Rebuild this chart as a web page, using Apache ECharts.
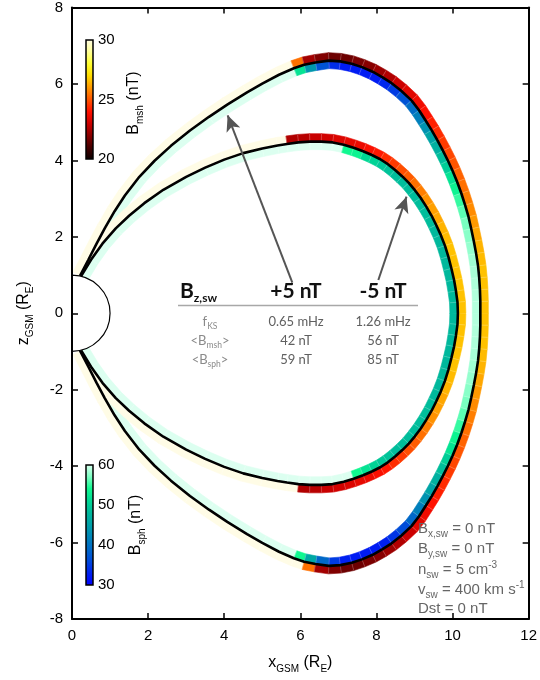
<!DOCTYPE html>
<html><head><meta charset="utf-8">
<script src="https://cdn.jsdelivr.net/npm/echarts@6.0.0/dist/echarts.min.js"></script>
<style>html,body{margin:0;padding:0;background:#fff}#c{width:540px;height:680px}</style>
</head><body><div id="c"></div>
<script>
// ---------------- data ----------------
// outer field line (Bz,sw = +5 nT), northern half, from Earth to the nose
const outerUpX = [0.21,0.43,0.65,0.86,1.12,1.39,1.77,2.17,2.6,3.1,3.6,4.08,4.6,5.0,5.44,5.83,6.1,6.4,6.75,7.05,7.35,7.62,7.9,8.15,8.4,8.65,8.92,9.12,9.30,9.45,9.6,9.75,9.88,10.0,10.12,10.23,10.33,10.42,10.49,10.56,10.62,10.67,10.70,10.72,10.73,10.73];
const outerUpZ = [0.98,1.40,1.83,2.22,2.67,3.08,3.57,3.99,4.38,4.78,5.14,5.46,5.78,6.01,6.24,6.41,6.50,6.56,6.61,6.59,6.53,6.44,6.32,6.18,6.02,5.82,5.57,5.31,5.03,4.79,4.53,4.25,3.99,3.73,3.44,3.14,2.83,2.52,2.21,1.88,1.56,1.24,0.93,0.62,0.31,0];
// per segment values (nT)
const outerUpMsh = [30,30,30,30,30,30,30,30,30,30,30,30,30,30,30,25.4,22.4,21.9,21.6,21.6,21.8,22.0,22.3,22.6,23.0,23.4,23.7,24.0,24.2,24.4,24.6,24.8,25.0,25.2,25.4,25.6,25.8,26.0,26.2,26.4,26.5,26.6,26.6,26.6,26.6];
const outerUpSph = [60,60,60,60,60,60,60,60,60,60,60,60,60,60,60,52,44,37,34,32.5,32.5,32.5,32.5,33.5,35,37,39.5,41.5,43.5,45.5,47,48.5,50,52,53.5,55,56,56.8,57.3,57.7,58,58.3,58.5,58.6,58.7];
// outer field line, southern half, from Earth to the nose
const outerLowX = [0.21,0.43,0.65,0.86,1.12,1.39,1.77,2.17,2.6,3.1,3.6,4.08,4.6,5.0,5.44,5.83,6.1,6.4,6.75,7.05,7.35,7.62,7.9,8.15,8.4,8.65,8.92,9.12,9.30,9.45,9.6,9.75,9.88,10.0,10.12,10.23,10.33,10.42,10.49,10.56,10.62,10.67,10.70,10.72,10.73,10.73];
const outerLowZ = [-0.98,-1.40,-1.83,-2.22,-2.67,-3.08,-3.57,-3.99,-4.38,-4.78,-5.14,-5.46,-5.78,-6.01,-6.24,-6.41,-6.50,-6.56,-6.61,-6.59,-6.53,-6.44,-6.32,-6.18,-6.02,-5.82,-5.57,-5.31,-5.03,-4.79,-4.53,-4.25,-3.99,-3.73,-3.44,-3.14,-2.83,-2.52,-2.21,-1.88,-1.56,-1.24,-0.93,-0.62,-0.31,0];
const outerLowMsh = [30,30,30,30,30,30,30,30,30,30,30,30,30,30,30,30,25.4,22.4,21.9,21.6,21.6,21.8,22.0,22.3,22.6,23.0,23.4,23.7,24.0,24.2,24.4,24.6,24.8,25.0,25.2,25.4,25.6,25.8,26.0,26.2,26.4,26.5,26.6,26.6,26.6];
const outerLowSph = [60,60,60,60,60,60,60,60,60,60,60,60,60,60,60,54,46,39,35,33,32.5,32.5,32.5,33,34.5,36.5,39,41.5,43.5,45.5,47,48.5,50,52,53.5,55,56,56.8,57.3,57.7,58,58.3,58.5,58.6,58.7];
// inner field line (Bz,sw = -5 nT), northern half
const innerUpX = [0.24,0.5,0.8,1.15,1.5,1.9,2.4,3.0,3.5,4.0,4.5,5.0,5.4,5.65,5.95,6.25,6.55,6.85,7.14,7.40,7.65,7.88,8.10,8.30,8.49,8.68,8.85,9.01,9.16,9.31,9.45,9.57,9.69,9.80,9.89,9.97,10.04,10.09,10.13,10.14];
const innerUpZ = [0.97,1.40,1.82,2.22,2.55,2.88,3.23,3.57,3.81,4.02,4.19,4.31,4.39,4.43,4.47,4.49,4.49,4.47,4.41,4.33,4.24,4.14,4.03,3.90,3.75,3.58,3.41,3.22,3.02,2.79,2.55,2.31,2.05,1.77,1.48,1.17,0.87,0.58,0.29,0];
const innerUpMsh = [30,30,30,30,30,30,30,30,30,30,30,30,30,22.6,22.7,22.95,23.1,23.3,23.5,23.6,23.9,24.1,24.4,24.6,24.9,25.1,25.4,25.6,25.9,26.1,26.2,26.4,26.5,26.6,26.6,26.6,26.6,26.6,26.6];
const innerUpSph = [60,60,60,60,60,60,60,60,60,60,60,60,60,60,60,60,60,60,54,53.5,51,50.5,49.5,49,48.5,48.5,48.5,48.5,48.5,48.5,48.5,48,48,48,48,48,48,48,48];
// inner field line, southern half
const innerLowX = [0.24,0.5,0.8,1.15,1.5,1.9,2.4,3.0,3.5,4.0,4.5,5.0,5.4,5.65,5.95,6.25,6.55,6.85,7.14,7.40,7.65,7.88,8.10,8.30,8.49,8.68,8.85,9.01,9.16,9.31,9.45,9.57,9.69,9.80,9.89,9.97,10.04,10.09,10.13,10.14];
const innerLowZ = [-0.97,-1.40,-1.82,-2.22,-2.55,-2.88,-3.23,-3.57,-3.81,-4.02,-4.19,-4.31,-4.39,-4.43,-4.47,-4.49,-4.49,-4.47,-4.41,-4.33,-4.24,-4.14,-4.03,-3.90,-3.75,-3.58,-3.41,-3.22,-3.02,-2.79,-2.55,-2.31,-2.05,-1.77,-1.48,-1.17,-0.87,-0.58,-0.29,0];
const innerLowMsh = [30,30,30,30,30,30,30,30,30,30,30,30,30,30,22.6,22.7,22.95,23.1,23.3,23.5,23.6,23.9,24.1,24.4,24.6,24.9,25.1,25.4,25.6,25.9,26.1,26.2,26.4,26.5,26.6,26.6,26.6,26.6,26.6];
const innerLowSph = [60,60,60,60,60,60,60,60,60,60,60,60,60,60,60,60,60,60,60,54,52,50.5,49.5,49,48.5,48.5,48.5,48.5,48.5,48.5,48.5,48,48,48,48,48,48,48,48];

const earthRadius = 1;
const arrowFrom = [[5.79, 0.80], [8.05, 0.87]];
const arrowTo = [[4.09, 5.18], [8.79, 3.05]];

const xTicksMin = 0, xTicksMax = 12, yTicksMin = -8, yTicksMax = 8;
const mshRange = [20, 30], sphRange = [30, 60];
const mshTicks = [20, 25, 30], sphTicks = [30, 40, 50, 60];

const tableHead = ['+5 nT', '-5 nT'];
const tableRows = [
  ['{l|f}{ls|KS}', '0.65 mHz', '1.26 mHz'],
  ['{l|<B}{ls|msh}{l|>}', '42 nT', '56 nT'],
  ['{l|<B}{ls|sph}{l|>}', '59 nT', '85 nT']
];
const swLines = [
  '{m|B}{s|x,sw}{m| = 0 nT}',
  '{m|B}{s|y,sw}{m| = 0 nT}',
  '{m|n}{s|sw}{m| = 5 cm}{p|-3}',
  '{m|v}{s|sw}{m| = 400 km s}{p|-1}',
  '{m|Dst = 0 nT}'
];

// ---------------- colour maps (style) ----------------
const HOT = ['#0a0000','#440000','#880000','#cc0000','#ff1100','#ff5500','#ff9900','#ffdd00','#ffff33','#ffff99','#fffce6'];
const WINTERX = ['#0000ff','#0020f0','#0048dc','#0068c8','#0084b8','#00a0a8','#00b89c','#00d894','#10f890','#80ffc4','#dcfff0'];
function hexToRgb(h){return [parseInt(h.slice(1,3),16),parseInt(h.slice(3,5),16),parseInt(h.slice(5,7),16)];}
function cmap(stops, vmin, vmax, v){
  let t = (v - vmin) / (vmax - vmin); t = Math.max(0, Math.min(1, t));
  const n = stops.length - 1, f = t * n, i = Math.min(Math.floor(f), n - 1), u = f - i;
  const a = hexToRgb(stops[i]), b = hexToRgb(stops[i + 1]);
  return 'rgb(' + a.map((c, k) => Math.round(c + (b[k] - c) * u)).join(',') + ')';
}
function gradient(stops){
  return {type:'linear', x:0, y:0, x2:0, y2:1,
    colorStops: stops.map((c, i) => ({offset: 1 - i / (stops.length - 1), color: c})).reverse()};
}

const F = '"Liberation Sans", Arial, sans-serif';
const FT = 'Lato, "Open Sans", sans-serif';
const BAND_W = 8;

function bandSeries(X, Z, V, stops, range, side){
  return {
    type:'custom', z:2, silent:true, animation:false,
    data: V.map((v, i) => [X[i], Z[i], v]),
    encode:{x:0, y:1},
    renderItem: function(params, api){
      const i = params.dataIndex, n = X.length;
      const P = j => api.coord([X[j], Z[j]]);
      const N = j => {
        const a = P(Math.max(j - 1, 0)), b = P(Math.min(j + 1, n - 1));
        const tx = b[0] - a[0], ty = b[1] - a[1], L = Math.hypot(tx, ty) || 1;
        return [side * ty / L, -side * tx / L];
      };
      const p0 = P(i), p1 = P(i + 1), n0 = N(i), n1 = N(i + 1);
      const off = (p, nn, d) => [p[0] + nn[0] * d, p[1] + nn[1] * d];
      const col = cmap(stops, range[0], range[1], api.value(2));
      const a0 = off(p0, n0, 0.3), a1 = off(p0, n0, BAND_W);
      return {type:'group', children:[
        {type:'polygon', shape:{points:[a0, off(p1, n1, 0.3), off(p1, n1, BAND_W), a1]},
         style:{fill:col, stroke:col, lineWidth:0.6}},
        {type:'line', shape:{x1:a0[0], y1:a0[1], x2:a1[0], y2:a1[1]},
         style:{stroke:'rgba(255,255,255,0.3)', lineWidth:0.7}}
      ]};
    }
  };
}
function pairs(X, Z){ return X.map((x, i) => [x, Z[i]]); }

// rich styles for axis names (ECharts label model uses "color")
const richAx = {
  m:{fontSize:16, fontFamily:F, color:'#000', lineHeight:22},
  s:{fontSize:10, fontFamily:F, color:'#000', lineHeight:10, verticalAlign:'bottom'}
};
// rich styles for graphic texts (zrender uses "fill")
const richBar = {
  m:{fontSize:16, fontFamily:F, fill:'#000', lineHeight:22},
  s:{fontSize:10, fontFamily:F, fill:'#000', lineHeight:10, verticalAlign:'bottom'}
};
const richSw = {
  m:{fontSize:15, fontFamily:F, fill:'#666', lineHeight:20},
  s:{fontSize:10, fontFamily:F, fill:'#666', lineHeight:9, verticalAlign:'bottom'},
  p:{fontSize:10, fontFamily:F, fill:'#666', lineHeight:9, verticalAlign:'top'}
};
const richTab = {
  l:{fontSize:13, fontFamily:FT, fill:'#8a8a8a', lineHeight:18},
  ls:{fontSize:8.5, fontFamily:FT, fill:'#8a8a8a', lineHeight:9, verticalAlign:'bottom'},
  b:{fontSize:21, fontFamily:FT, fontWeight:'bold', fill:'#111', lineHeight:26},
  bs:{fontSize:12, fontFamily:FT, fontWeight:'bold', fill:'#111', lineHeight:12, verticalAlign:'bottom'}
};

const axisCommon = {
  type:'value', splitLine:{show:false},
  axisLine:{show:true, onZero:false, lineStyle:{color:'#000', width:2}},
  axisTick:{show:true, inside:true, length:6, lineStyle:{color:'#000', width:1.5}},
  z:10
};

const graphics = [];
// B_msh colour bar
graphics.push({type:'rect', shape:{x:86, y:40, width:7, height:119}, style:{fill:gradient(HOT), stroke:'#000', lineWidth:1.5}, z:100});
mshTicks.forEach(v => graphics.push({type:'text', x:98, y:159 - (v - mshRange[0]) / (mshRange[1] - mshRange[0]) * 119,
  style:{text:String(v), font:'15px ' + F, fill:'#000', textAlign:'left', textVerticalAlign:'middle'}, z:100}));
graphics.push({type:'text', x:134, y:103, rotation:Math.PI / 2,
  style:{text:'{m|B}{s|msh}{m| (nT)}', rich:richBar, textAlign:'center', textVerticalAlign:'middle'}, z:100});
// B_sph colour bar
graphics.push({type:'rect', shape:{x:86, y:465, width:7, height:120}, style:{fill:gradient(WINTERX), stroke:'#000', lineWidth:1.5}, z:100});
sphTicks.forEach(v => graphics.push({type:'text', x:98, y:585 - (v - sphRange[0]) / (sphRange[1] - sphRange[0]) * 120,
  style:{text:String(v), font:'15px ' + F, fill:'#000', textAlign:'left', textVerticalAlign:'middle'}, z:100}));
graphics.push({type:'text', x:136, y:525, rotation:Math.PI / 2,
  style:{text:'{m|B}{s|sph}{m| (nT)}', rich:richBar, textAlign:'center', textVerticalAlign:'middle'}, z:100});
// table
graphics.push({type:'text', x:180, y:291, style:{text:'{b|B}{bs|z,sw}', rich:richTab, textAlign:'left', textVerticalAlign:'middle'}, z:100});
const colX = [296, 383];
tableHead.forEach((t, k) => graphics.push({type:'text', x:colX[k], y:291,
  style:{text:t, font:'bold 21px ' + FT, fill:'#111', textAlign:'center', textVerticalAlign:'middle'}, z:100}));
graphics.push({type:'line', shape:{x1:178, y1:305.5, x2:418, y2:305.5}, style:{stroke:'#a8a8a8', lineWidth:1.5}, z:100});
const rowY = [322, 341, 360];
tableRows.forEach((r, k) => {
  graphics.push({type:'text', x:210, y:rowY[k], style:{text:r[0], rich:richTab, textAlign:'center', textVerticalAlign:'middle'}, z:100});
  [1, 2].forEach(c => graphics.push({type:'text', x:colX[c - 1], y:rowY[k],
    style:{text:r[c], font:'13px ' + FT, fill:'#606060', textAlign:'center', textVerticalAlign:'middle'}, z:100}));
});
// solar wind conditions
const swY = [529, 549, 570, 590, 609];
swLines.forEach((t, k) => graphics.push({type:'text', x:418, y:swY[k],
  style:{text:t, rich:richSw, textAlign:'left', textVerticalAlign:'middle'}, z:100}));

const option = {
  animation:false,
  backgroundColor:'#fff',
  grid:{left:72, right:9, top:5, bottom:61, containLabel:false},
  xAxis:[
    Object.assign({}, axisCommon, {min:xTicksMin, max:xTicksMax, interval:2, position:'bottom',
      axisLabel:{color:'#000', fontSize:15, fontFamily:F, margin:9},
      name:'{m|x}{s|GSM}{m| (R}{s|E}{m|)}', nameLocation:'middle', nameGap:33,
      nameTextStyle:{rich:richAx}}),
    Object.assign({}, axisCommon, {min:xTicksMin, max:xTicksMax, interval:2, position:'top', axisLabel:{show:false}})
  ],
  yAxis:[
    Object.assign({}, axisCommon, {min:yTicksMin, max:yTicksMax, interval:2, position:'left',
      axisLabel:{color:'#000', fontSize:15, fontFamily:F, margin:9},
      name:'{m|z}{s|GSM}{m| (R}{s|E}{m|)}', nameLocation:'middle', nameGap:37, nameRotate:90,
      nameTextStyle:{rich:richAx}}),
    Object.assign({}, axisCommon, {min:yTicksMin, max:yTicksMax, interval:2, position:'right', axisLabel:{show:false}})
  ],
  series:[
    bandSeries(outerUpX, outerUpZ, outerUpMsh, HOT, mshRange, 1),
    bandSeries(outerUpX, outerUpZ, outerUpSph, WINTERX, sphRange, -1),
    bandSeries(outerLowX, outerLowZ, outerLowMsh, HOT, mshRange, -1),
    bandSeries(outerLowX, outerLowZ, outerLowSph, WINTERX, sphRange, 1),
    bandSeries(innerUpX, innerUpZ, innerUpMsh, HOT, mshRange, 1),
    bandSeries(innerUpX, innerUpZ, innerUpSph, WINTERX, sphRange, -1),
    bandSeries(innerLowX, innerLowZ, innerLowMsh, HOT, mshRange, -1),
    bandSeries(innerLowX, innerLowZ, innerLowSph, WINTERX, sphRange, 1),
    {type:'line', z:3, silent:true, showSymbol:false, symbol:'none',
     data: pairs(outerUpX, outerUpZ).concat(pairs(outerLowX, outerLowZ).reverse()),
     lineStyle:{color:'#000', width:2.6}},
    {type:'line', z:3, silent:true, showSymbol:false, symbol:'none',
     data: pairs(innerUpX, innerUpZ).concat(pairs(innerLowX, innerLowZ).reverse()),
     lineStyle:{color:'#000', width:2.6}},
    {type:'custom', z:4, silent:true, data:[[0, 0]], encode:{x:0, y:1},
     renderItem:function(params, api){
       const c = api.coord([0, 0]), r = api.size([earthRadius, 0])[0];
       return {type:'sector', shape:{cx:c[0], cy:c[1], r:r, r0:0, startAngle:-Math.PI / 2, endAngle:Math.PI / 2, clockwise:true},
               style:{fill:'#fff', stroke:'#000', lineWidth:1.2}};
     }},
    {type:'line', z:5, silent:true, data:[], symbol:'none',
     markLine:{silent:true, animation:false, symbol:['none', 'arrow'], symbolSize:[11, 16],
       label:{show:false}, lineStyle:{color:'#555', width:2, type:'solid'},
       emphasis:{disabled:true},
       data: arrowFrom.map((a, k) => [{coord:a}, {coord:arrowTo[k]}])}}
  ],
  graphic: graphics
};
const chart = echarts.init(document.getElementById('c'));
chart.setOption(option);
</script></body></html>
